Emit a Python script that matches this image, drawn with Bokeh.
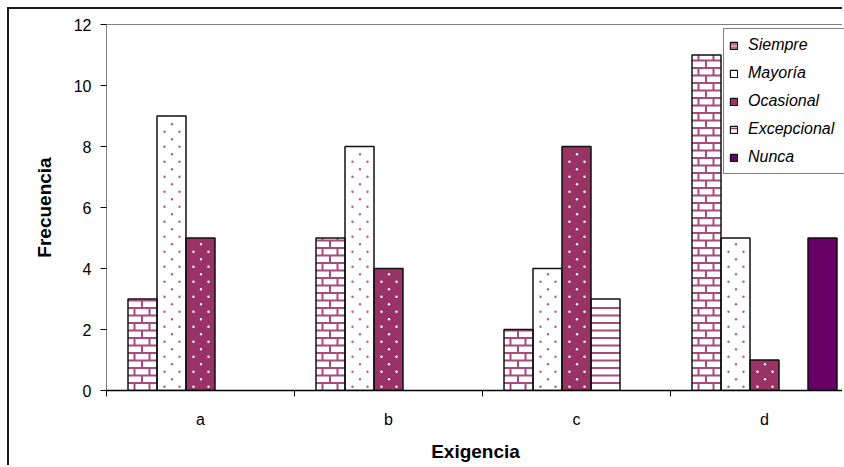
import numpy as np
from bokeh.plotting import figure
from bokeh.models import (Range1d, FixedTicker, LinearAxis, Legend, LegendItem,
                          ColumnDataSource)
from bokeh.embed import file_html
from bokeh.resources import INLINE

# ---- data ----
categories = ["a", "b", "c", "d"]
series = ["Siempre", "Mayoría", "Ocasional", "Excepcional", "Nunca"]
siempre = [3, 5, 2, 11]
mayoria = [9, 8, 4, 5]
ocasional = [5, 4, 8, 1]
excepcional = [0, 0, 3, 0]
nunca = [0, 0, 0, 5]
y_ticks = [0, 2, 4, 6, 8, 10, 12]
x_title = "Exigencia"
y_title = "Frecuencia"

values = [siempre, mayoria, ocasional, excepcional, nunca]

FONT = "Liberation Sans"
MAG = "#993366"
PAT = "#a84a7e"
PURPLE = "#660066"

# ---- layout ----
W, H = 835, 458
left_b, top_b, bottom_b = 97, 15, 77
frame_w = W - left_b
frame_h = H - top_b - bottom_b
pitch = 188
y_max = 12
dx = 1.0 / pitch            # data units per pixel (x)
dy = y_max / frame_h        # data units per pixel (y)

p = figure(width=W, height=H, output_backend="svg", toolbar_location=None,
           x_range=Range1d(0, frame_w / pitch), y_range=Range1d(0, y_max),
           min_border_left=left_b, min_border_right=0, min_border_top=top_b,
           min_border_bottom=bottom_b)
p.margin = (7, 0, 0, 7)
p.styles = {"border-left": "2px solid #1a1a1a", "border-top": "2px solid #1a1a1a"}
p.background_fill_color = "white"
p.border_fill_color = "white"
p.outline_line_color = None
p.xgrid.visible = False
p.ygrid.visible = False

bw = 29 * dx
fills = ["white", "white", MAG, "white", PURPLE]

bars = []
for i, vals in enumerate(values):
    off = (i - 2) * bw
    xs = [k + 0.5 + off for k, v in enumerate(vals) if v > 0]
    tops = [v for v in vals if v > 0]
    bars.append((xs, tops))
    p.vbar(x=xs, top=tops, width=bw, bottom=0, fill_color=fills[i], line_color=None)

# --- brick pattern (Siempre) ---
step = 7.5 * dy
hx0, hx1, hy = [], [], []
vx, vy0, vy1 = [], [], []
for xc, top in zip(*bars[0]):
    left = xc - bw / 2
    k = 0
    while k * step < top - 1e-9:
        y0 = k * step
        y1 = min((k + 1) * step, top)
        if k > 0:
            hx0.append(left); hx1.append(left + bw); hy.append(y0)
        offs = [6.5, 21.5] if k % 2 == 0 else [14.0]
        for o in offs:
            vx.append(left + o * dx); vy0.append(y0); vy1.append(y1)
        k += 1
p.segment(x0=hx0, x1=hx1, y0=hy, y1=hy, line_color=PAT, line_width=2)
p.segment(x0=vx, x1=vx, y0=vy0, y1=vy1, line_color=PAT, line_width=2)

# --- dotted patterns (Mayoría, Ocasional) ---
for idx, col in [(1, "#b85a8e"), (2, "white")]:
    px, py = [], []
    for xc, top in zip(*bars[idx]):
        left = xc - bw / 2
        j = 0
        while (3.75 + j * 7.5) * dy < top - 2 * dy:
            yy = (3.75 + j * 7.5) * dy
            offs = [7.5, 22.5] if j % 2 == 0 else [15.0]
            for o in offs:
                px.append(left + o * dx); py.append(yy)
            j += 1
    p.scatter(x=px, y=py, marker="circle", size=2.4, fill_color=col, line_color=None)

# --- horizontal lines (Excepcional) ---
ex0, ex1, ey = [], [], []
for xc, top in zip(*bars[3]):
    left = xc - bw / 2
    k = 1
    while k * step < top - 2 * dy:
        ex0.append(left); ex1.append(left + bw); ey.append(k * step)
        k += 1
p.segment(x0=ex0, x1=ex1, y0=ey, y1=ey, line_color=PAT, line_width=2)

# --- outlines on top ---
for xs, tops in bars:
    p.vbar(x=xs, top=tops, width=bw, bottom=0, fill_color=None,
           line_color="#111111", line_width=1.5)

# --- legend proxies (one point far outside the ranges so only the swatch shows) ---
proxy_styles = [
    dict(fill_color="#d6a3bf", hatch_pattern="horizontal_line", hatch_color=MAG, hatch_scale=4, hatch_weight=1),
    dict(fill_color="white"),
    dict(fill_color=MAG),
    dict(fill_color="white", hatch_pattern="horizontal_line", hatch_color=MAG, hatch_scale=5, hatch_weight=1.5),
    dict(fill_color=PURPLE),
]
proxies = []
for st in proxy_styles:
    r = p.vbar(x=[-50], top=[-50], bottom=[-60], width=bw,
               line_color="#111111", line_width=1.2, **st)
    proxies.append(r)

# x axis
xa = p.xaxis[0]
xa.ticker = FixedTicker(ticks=[k + 0.5 for k in range(len(categories))],
                        minor_ticks=list(range(len(categories) + 1)))
xa.major_label_overrides = {k + 0.5: c for k, c in enumerate(categories)}
xa.major_tick_line_color = None
xa.major_tick_out = 0
xa.major_tick_in = 0
xa.minor_tick_line_color = "black"
xa.minor_tick_out = 6
xa.minor_tick_in = 0
xa.axis_line_color = "black"
xa.axis_line_width = 1.5
xa.major_label_text_font = FONT
xa.major_label_text_font_size = "16px"
xa.major_label_text_color = "black"
xa.major_label_standoff = 14
xa.axis_label = x_title
xa.axis_label_text_font = FONT
xa.axis_label_text_font_style = "bold"
xa.axis_label_text_font_size = "19px"
xa.axis_label_text_color = "black"
xa.axis_label_standoff = 10

# y axis
ya = p.yaxis[0]
ya.ticker = FixedTicker(ticks=y_ticks)
ya.minor_tick_line_color = None
ya.major_tick_out = 6
ya.major_tick_in = 0
ya.major_tick_line_color = "black"
ya.axis_line_color = "#808080"
ya.major_label_text_font = FONT
ya.major_label_text_font_size = "16px"
ya.major_label_text_color = "black"
ya.major_label_standoff = 9
ya.axis_label = y_title
ya.axis_label_text_font = FONT
ya.axis_label_text_font_style = "bold"
ya.axis_label_text_font_size = "19px"
ya.axis_label_text_color = "black"
ya.axis_label_standoff = 16

# top frame line
top_ax = LinearAxis(ticker=FixedTicker(ticks=[]), major_tick_line_color=None,
                    minor_tick_line_color=None, axis_line_color="#808080",
                    major_tick_out=0, major_tick_in=0, major_label_standoff=0,
                    axis_label_standoff=0)
p.add_layout(top_ax, "above")

legend = Legend(items=[LegendItem(label=s, renderers=[r]) for s, r in zip(series, proxies)],
                location=(617, 216), orientation="vertical",
                label_text_font=FONT, label_text_font_style="italic",
                label_text_font_size="16px", label_text_color="black",
                glyph_width=9, glyph_height=9, label_height=22, spacing=6,
                padding=5, margin=0, label_standoff=10, label_width=112,
                border_line_color="black", border_line_width=1,
                background_fill_color="white", background_fill_alpha=1)
p.add_layout(legend)

open("out.html", "w").write(file_html(p, INLINE))
